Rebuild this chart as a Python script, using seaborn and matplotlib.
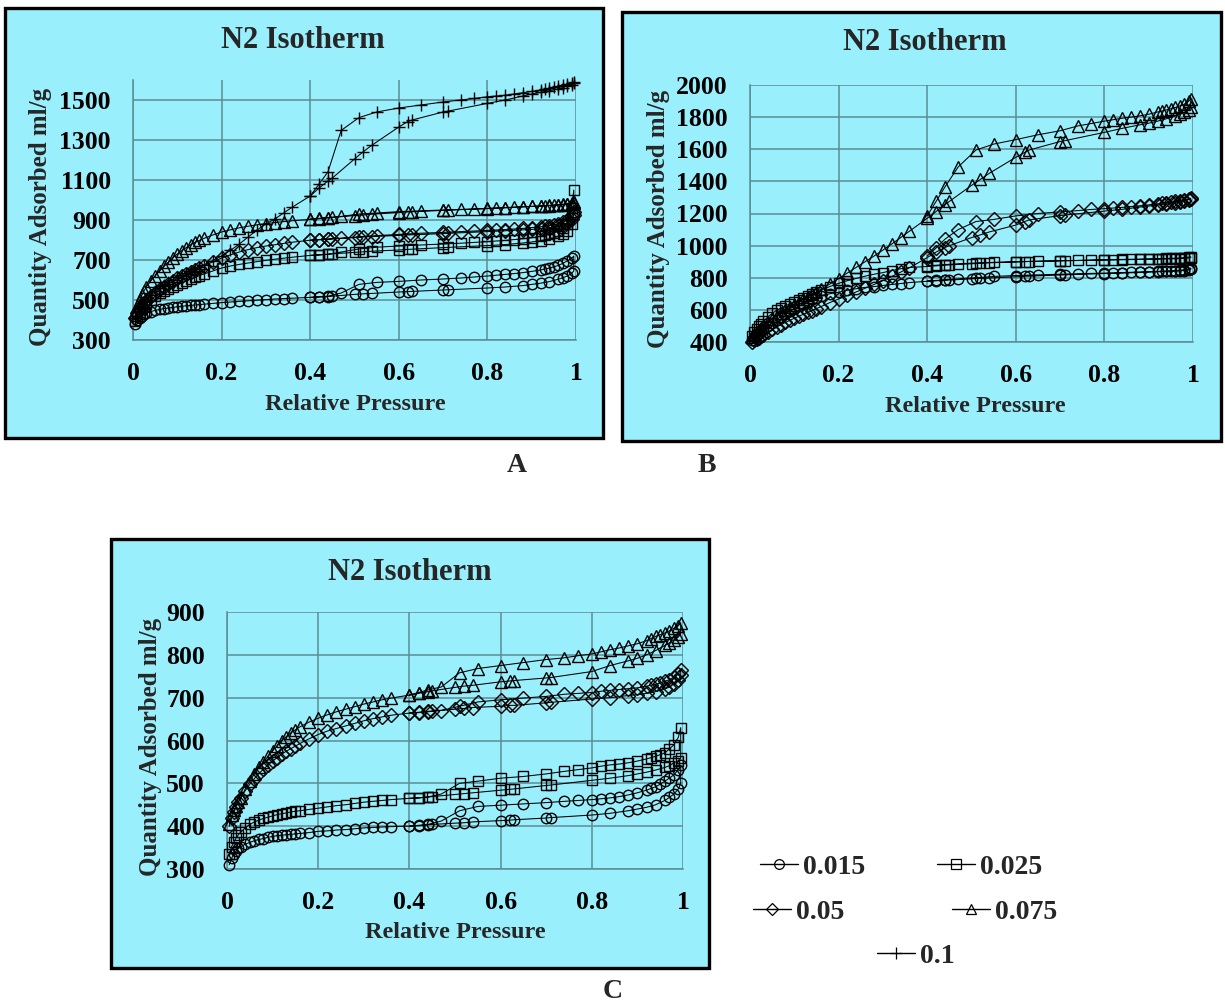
import matplotlib
matplotlib.use("Agg")
import matplotlib.pyplot as plt
import seaborn as sns
import pandas as pd
from matplotlib.patches import Rectangle
from matplotlib.lines import Line2D

# ---------------- data ----------------
P_ADS = [0.005, 0.01, 0.015, 0.02, 0.025, 0.03,
         0.04, 0.05, 0.06, 0.07, 0.08, 0.09,
         0.10, 0.11, 0.12, 0.13, 0.14, 0.15, 0.16,
         0.18, 0.20, 0.22, 0.24, 0.26, 0.28, 0.30,
         0.32, 0.34, 0.36,
         0.40, 0.42, 0.44, 0.45,
         0.50, 0.52, 0.54,
         0.60, 0.62, 0.63,
         0.70, 0.71,
         0.80, 0.84, 0.88, 0.90,
         0.92, 0.94, 0.96, 0.97, 0.98, 0.99, 0.995]
P_DES = [0.995, 0.99, 0.98, 0.97, 0.96, 0.95, 0.94, 0.93, 0.92, 0.90, 0.88, 0.86, 0.84,
         0.82, 0.80, 0.77, 0.74, 0.70, 0.65, 0.60, 0.55, 0.51, 0.47, 0.44, 0.42, 0.40]

SERIES = ["0.015", "0.025", "0.05", "0.075", "0.1"]
X_TICKS = [0, 0.2, 0.4, 0.6, 0.8, 1]
X_TICKLABELS = ["0", "0.2", "0.4", "0.6", "0.8", "1"]

# Panel A
A_015_ADS = [378, 400, 412, 422, 429, 434, 442, 448, 453, 457, 460, 463, 466, 469, 471, 473, 475, 477, 479,
             483, 487, 490, 493, 496, 499, 502, 505, 507, 509, 513, 515, 517, 519, 528, 531, 533,
             540, 542, 543, 550, 551, 560, 565, 572, 578, 584, 592, 604, 611, 620, 633, 645]
A_015_DES = [720, 708, 695, 683, 673, 666, 660, 655, 650, 643, 637, 632, 628, 624, 620, 615, 610, 605,
             600, 593, 588, 578, 535, 519, 516, 513]
A_025_ADS = [395, 420, 440, 455, 468, 480, 500, 518, 533, 545, 555, 565, 575, 585, 595, 604, 613, 622, 630,
             645, 660, 670, 678, 685, 692, 698, 704, 709, 714, 723, 726, 729, 731, 738, 741, 744,
             750, 753, 754, 762, 763, 772, 777, 785, 790, 797, 806, 818, 828, 845, 880, 940]
A_025_DES = [1050, 960, 880, 858, 845, 836, 828, 823, 818, 811, 806, 802, 798, 795, 792, 788, 784, 780,
             775, 770, 764, 755, 740, 728, 725, 723]
A_05_ADS = [410, 435, 455, 470, 484, 497, 518, 537, 553, 567, 580, 594, 608, 619, 630, 641, 652, 662, 672,
            690, 710, 726, 740, 752, 762, 770, 776, 783, 789, 799, 802, 805, 807, 812, 815, 817,
            823, 825, 826, 832, 833, 842, 846, 851, 853, 857, 862, 870, 876, 885, 903, 925]
A_05_DES = [940, 920, 900, 888, 880, 876, 872, 869, 866, 862, 858, 855, 852, 850, 848, 845, 842, 838,
            834, 828, 822, 816, 808, 803, 801, 799]
A_075_ADS = [440, 470, 500, 525, 546, 565, 595, 622, 645, 668, 690, 711, 730, 746, 762, 776, 788, 798, 808,
             825, 840, 851, 861, 869, 876, 882, 887, 892, 896, 903, 907, 911, 913, 922, 925, 929,
             937, 940, 941, 948, 949, 957, 961, 966, 968, 970, 972, 975, 977, 979, 982, 985]
A_075_DES = [990, 986, 982, 979, 976, 975, 973, 972, 970, 968, 966, 964, 962, 960, 958, 955, 953, 950,
             946, 942, 935, 930, 918, 912, 908, 905]
A_1_ADS = [410, 440, 460, 478, 492, 505, 527, 546, 562, 577, 590, 602, 614, 625, 636, 646, 656, 666, 676,
           697, 720, 748, 780, 815, 850, 880, 905, 935, 965, 1020, 1060, 1095, 1110, 1205, 1242, 1275,
           1365, 1392, 1400, 1440, 1444, 1483, 1500, 1520, 1530, 1538, 1546, 1556, 1562, 1570, 1577, 1583]
A_1_DES = [1590, 1586, 1580, 1574, 1568, 1563, 1558, 1554, 1550, 1543, 1536, 1530, 1524, 1520, 1516,
           1508, 1500, 1490, 1475, 1460, 1440, 1412, 1348, 1140, 1080, 1020]

# Panel B
B_015_ADS = [415, 430, 443, 455, 467, 478, 500, 520, 540, 558, 575, 592, 608, 623, 638, 652, 665, 677, 688,
             700, 710, 722, 732, 740, 745, 752, 758, 764, 770, 778, 781, 785, 786, 793, 796, 798,
             806, 809, 810, 817, 818, 826, 829, 833, 835, 837, 839, 841, 843, 845, 848, 852]
B_015_DES = [860, 855, 850, 847, 845, 843, 842, 841, 840, 838, 836, 834, 832, 830, 829, 827, 825, 822,
             818, 814, 808, 800, 793, 787, 783, 780]
B_025_ADS = [440, 465, 483, 500, 515, 528, 555, 578, 597, 612, 625, 637, 648, 660, 672, 685, 697, 710, 722,
             745, 765, 782, 796, 810, 822, 832, 845, 856, 864, 870, 874, 878, 880, 887, 890, 893,
             898, 900, 901, 905, 906, 910, 912, 914, 915, 916, 917, 918, 919, 921, 923, 926]
B_025_DES = [930, 928, 925, 923, 922, 921, 920, 919, 918, 917, 916, 915, 914, 913, 912, 910, 908, 906,
             903, 900, 896, 892, 887, 882, 878, 875]
B_05_ADS = [400, 410, 419, 428, 437, 445, 462, 478, 494, 508, 522, 535, 548, 560, 572, 584, 596, 608, 620,
            645, 668, 690, 712, 735, 758, 782, 808, 835, 862, 925, 960, 988, 1000, 1050, 1067, 1085,
            1128, 1150, 1160, 1187, 1190, 1215, 1226, 1240, 1246, 1253, 1260, 1268, 1272, 1280, 1286, 1292]
B_05_DES = [1295, 1290, 1285, 1280, 1275, 1271, 1268, 1264, 1260, 1254, 1248, 1243, 1238, 1234, 1230,
            1225, 1218, 1210, 1200, 1185, 1163, 1150, 1100, 1040, 985, 935]
B_075_ADS = [430, 448, 462, 475, 488, 500, 522, 543, 562, 580, 598, 615, 632, 648, 665, 681, 697, 712, 728,
             760, 795, 830, 865, 900, 935, 972, 1010, 1050, 1090, 1170, 1212, 1255, 1275, 1375, 1412, 1450,
             1550, 1580, 1595, 1648, 1653, 1705, 1730, 1752, 1762, 1775, 1790, 1808, 1818, 1830, 1845, 1860]
B_075_DES = [1915, 1898, 1880, 1870, 1860, 1852, 1845, 1838, 1832, 1818, 1808, 1800, 1793, 1784, 1775,
             1760, 1745, 1715, 1690, 1660, 1632, 1595, 1490, 1365, 1275, 1185]

# Panel C
C_015_ADS = [310, 325, 335, 342, 348, 352, 358, 362, 366, 369, 371, 374, 376, 378, 379, 380, 381, 382, 383,
             385, 388, 389, 391, 392, 394, 396, 397, 398, 399, 400, 401, 403, 404, 407, 408, 410,
             413, 414, 415, 419, 420, 426, 430, 436, 440, 444, 450, 460, 467, 475, 487, 500]
C_015_DES = [542, 532, 520, 512, 505, 498, 492, 488, 484, 478, 473, 469, 466, 464, 462, 460, 458, 455,
             452, 449, 446, 436, 412, 404, 402, 400]
C_025_ADS = [335, 352, 363, 372, 380, 386, 396, 404, 410, 414, 418, 421, 424, 427, 429, 431, 433, 435, 436,
             439, 442, 445, 448, 450, 453, 456, 458, 460, 462, 465, 466, 468, 469, 474, 476, 478,
             484, 486, 487, 495, 496, 507, 512, 518, 522, 526, 531, 537, 541, 548, 553, 558]
C_025_DES = [630, 608, 590, 580, 571, 567, 563, 560, 557, 552, 548, 545, 543, 540, 536, 532, 528, 522,
             516, 512, 505, 500, 475, 468, 466, 465]
C_05_ADS = [400, 418, 432, 445, 456, 466, 483, 498, 511, 523, 533, 543, 552, 560, 568, 575, 581, 587, 593,
            604, 614, 622, 628, 634, 640, 646, 651, 655, 659, 664, 666, 668, 669, 673, 675, 677,
            680, 682, 682, 688, 689, 697, 700, 705, 707, 710, 714, 720, 725, 733, 742, 752]
C_05_DES = [765, 756, 748, 742, 738, 734, 731, 729, 727, 723, 721, 719, 717, 715, 712, 710, 708, 703,
            699, 695, 690, 680, 670, 667, 665, 664]
C_075_ADS = [405, 425, 437, 448, 457, 465, 487, 505, 522, 537, 550, 563, 576, 588, 600, 609, 618, 625, 632,
             643, 652, 660, 667, 673, 679, 685, 690, 695, 699, 706, 710, 714, 716, 724, 727, 729,
             737, 739, 740, 746, 747, 761, 775, 786, 792, 800, 810, 822, 828, 835, 842, 848]
C_075_DES = [875, 868, 862, 856, 851, 847, 843, 838, 833, 826, 821, 816, 812, 807, 802, 798, 793, 789,
             782, 775, 768, 758, 725, 718, 712, 706]

# ---------------- style ----------------
sns.set_style("white")
plt.rcParams["font.family"] = ["Liberation Serif", "DejaVu Serif"]
plt.rcParams["font.weight"] = "bold"

CYAN = "#9AEFFC"
GRID = "#5C8C93"
MARKERS = {"0.015": "o", "0.025": "s", "0.05": "D", "0.075": "^", "0.1": "+"}
MSIZE = {"0.015": 7.5, "0.025": 7.3, "0.05": 6.8, "0.075": 8.0, "0.1": 8.5}

W, H = 1225, 1008
fig = plt.figure(figsize=(W / 100, H / 100), dpi=100)
fig.patch.set_facecolor("white")


def fx(px):
    return px / W


def fy(py):
    return 1 - py / H


def draw_panel(frame, box, ylim, yticks, series, title_xy, ylab_xy, xlab_xy):
    l, t, r, b = frame
    fig.add_artist(Rectangle((fx(l), fy(b)), (r - l) / W, (b - t) / H,
                             transform=fig.transFigure, facecolor=CYAN,
                             edgecolor="black", lw=2.4, zorder=0))
    al, at, ar, ab = box
    ax = fig.add_axes([fx(al), fy(ab), (ar - al) / W, (ab - at) / H])
    ax.set_facecolor(CYAN)
    for name, ads, des in series:
        df = pd.DataFrame({"p": P_ADS + P_DES, "q": ads + des})
        sns.lineplot(data=df, x="p", y="q", sort=False, estimator=None, ax=ax,
                     color="black", lw=0.75, marker=MARKERS[name], markersize=MSIZE[name],
                     markerfacecolor="none", markeredgecolor="black",
                     markeredgewidth=1.0, clip_on=False, zorder=3)
    ax.set_xlim(0, 1)
    ax.set_ylim(*ylim)
    ax.set_xticks(X_TICKS)
    ax.set_xticklabels(X_TICKLABELS)
    ax.set_yticks(yticks)
    ax.set_yticklabels([str(v) for v in yticks])
    ax.grid(True, color=GRID, lw=1.1)
    ax.set_axisbelow(True)
    for s in ["top", "right"]:
        ax.spines[s].set_visible(False)
    for s in ["left", "bottom"]:
        ax.spines[s].set_color(GRID)
        ax.spines[s].set_linewidth(1.1)
    ax.tick_params(axis="both", direction="out", length=6, width=1.1, color=GRID,
                   labelsize=18.5, labelcolor="black")
    ax.tick_params(axis="y", pad=10)
    ax.tick_params(axis="x", pad=10)
    for lab in ax.get_xticklabels() + ax.get_yticklabels():
        lab.set_fontweight("bold")
    ax.set_xlabel("")
    ax.set_ylabel("")
    fig.text(fx(title_xy[0]), fy(title_xy[1]), "N2 Isotherm", ha="center", va="center",
             fontsize=22, fontweight="bold")
    fig.text(fx(ylab_xy[0]), fy(ylab_xy[1]), "Quantity Adsorbed ml/g", ha="center", va="center",
             rotation=90, fontsize=18, fontweight="bold")
    fig.text(fx(xlab_xy[0]), fy(xlab_xy[1]), "Relative Pressure", ha="center", va="center",
             fontsize=17.5, fontweight="bold")
    return ax


draw_panel((5, 8, 603, 438), (133, 80, 576, 340), (300, 1600), [300, 500, 700, 900, 1100, 1300, 1500],
           [("0.015", A_015_ADS, A_015_DES), ("0.025", A_025_ADS, A_025_DES),
            ("0.05", A_05_ADS, A_05_DES), ("0.075", A_075_ADS, A_075_DES),
            ("0.1", A_1_ADS, A_1_DES)],
           (303, 40), (41, 217), (355, 404))

draw_panel((622, 12, 1221, 441), (750, 85, 1193, 342), (400, 2000),
           [400, 600, 800, 1000, 1200, 1400, 1600, 1800, 2000],
           [("0.015", B_015_ADS, B_015_DES), ("0.025", B_025_ADS, B_025_DES),
            ("0.05", B_05_ADS, B_05_DES), ("0.075", B_075_ADS, B_075_DES)],
           (925, 43), (659, 219), (975, 406))

draw_panel((111, 539, 709, 968), (227, 612, 683, 869), (300, 900),
           [300, 400, 500, 600, 700, 800, 900],
           [("0.015", C_015_ADS, C_015_DES), ("0.025", C_025_ADS, C_025_DES),
            ("0.05", C_05_ADS, C_05_DES), ("0.075", C_075_ADS, C_075_DES)],
           (410, 572), (151, 747), (455, 933))

# panel letters
for letter, (px, py) in {"A": (517, 466), "B": (707, 466), "C": (613, 991)}.items():
    fig.text(fx(px), fy(py), letter, ha="center", va="center", fontsize=20, fontweight="bold")

# legend entries
LEG_POS = {"0.015": (760, 867), "0.025": (937, 867), "0.05": (753, 912),
           "0.075": (952, 912), "0.1": (877, 956)}
for name in SERIES:
    h = Line2D([], [], color="black", lw=1.0, marker=MARKERS[name], markersize=MSIZE[name] - 0.5,
               markerfacecolor="none", markeredgecolor="black", markeredgewidth=0.9)
    px, py = LEG_POS[name]
    fig.legend([h], [name], loc="center left", bbox_to_anchor=(fx(px), fy(py)),
               frameon=False, handlelength=1.35, handletextpad=0.2, borderpad=0,
               borderaxespad=0, prop={"size": 20, "weight": "bold"})

fig.savefig("out.png", dpi=100, facecolor="white")
